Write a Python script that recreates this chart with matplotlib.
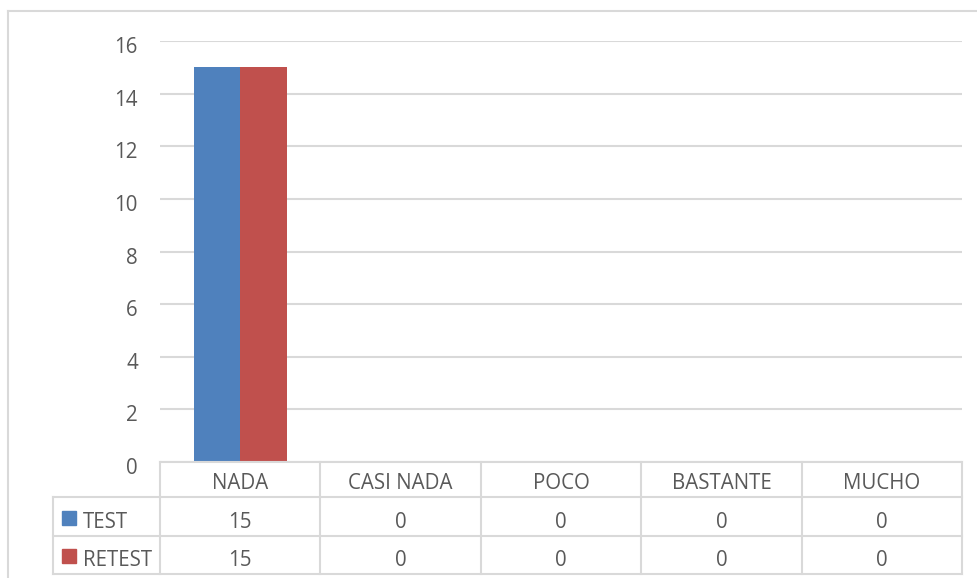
import matplotlib.pyplot as plt
from matplotlib.lines import Line2D
from matplotlib.patches import Rectangle
from matplotlib.transforms import ScaledTranslation
import numpy as np

plt.rcParams["font.family"] = ["Open Sans", "DejaVu Sans"]

# Data
categories = ["NADA", "CASI NADA", "POCO", "BASTANTE", "MUCHO"]
series_names = ["TEST", "RETEST"]
test_values = [15, 0, 0, 0, 0]
retest_values = [15, 0, 0, 0, 0]
yticks = [0, 2, 4, 6, 8, 10, 12, 14, 16]

COLORS = ["#4F81BD", "#C0504D"]
TXT = "#595959"
GRID = "#D9D9D9"
FS = 14.8

W, H = 977, 578
fig = plt.figure(figsize=(W / 100, H / 100), dpi=100)


def fx(px):
    return px / W


def fy(py):
    return 1 - py / H


# main plot area (pixel edges)
L, R, TOP, BOT = 160, 962, 41, 462
ax = fig.add_axes([fx(L), fy(BOT), fx(R - L), fy(TOP) - fy(BOT)])

x = np.arange(len(categories))
bw = 0.29
ax.bar(x - bw / 2, test_values, bw, color=COLORS[0], zorder=3)
ax.bar(x + bw / 2, retest_values, bw, color=COLORS[1], zorder=3)

ax.set_xlim(-0.5, len(categories) - 0.5)
ax.set_ylim(0, 16)
ax.set_yticks(yticks)
ax.set_xticks([])
ax.tick_params(axis="y", length=0, pad=16, labelsize=FS, labelcolor=TXT)
ax.yaxis.grid(True, color=GRID, lw=1.5, zorder=0)
for s in ax.spines.values():
    s.set_visible(False)
shift = ScaledTranslation(0, -4 / 100, fig.dpi_scale_trans)
for lab in ax.get_yticklabels():
    lab.set_transform(lab.get_transform() + shift)

# data table under the plot
row_edges = [462, 497, 536, 574]
TL = 53
label_w = (L - TL) / ((R - L) / len(categories))
tax = fig.add_axes([fx(TL), fy(row_edges[-1]), fx(R - TL), fy(row_edges[0]) - fy(row_edges[-1])])
tax.set_xlim(-0.5 - label_w, len(categories) - 0.5)
tax.set_ylim(row_edges[-1], row_edges[0])
tax.axis("off")

x0 = -0.5 - label_w
x1 = len(categories) - 0.5
lkw = dict(color=GRID, lw=1.5, clip_on=False)
tax.plot([-0.5, x1], [row_edges[0]] * 2, **lkw)
for yy in row_edges[1:]:
    tax.plot([x0, x1], [yy, yy], **lkw)
tax.plot([x0, x0], [row_edges[1], row_edges[-1]], **lkw)
for k in range(len(categories) + 1):
    tax.plot([k - 0.5] * 2, [row_edges[0], row_edges[-1]], **lkw)

for i, c in enumerate(categories):
    tax.text(i, (row_edges[0] + row_edges[1]) / 2 + 4, c, ha="center", va="center",
             fontsize=FS, color=TXT)

px_unit = 1 / ((R - L) / len(categories))
for r, (name, vals) in enumerate(zip(series_names, [test_values, retest_values])):
    yc = (row_edges[r + 1] + row_edges[r + 2]) / 2 + 6
    tax.add_patch(Rectangle((x0 + 9 * px_unit, yc - 7 - 5), 14 * px_unit, 14,
                            color=COLORS[r], clip_on=False))
    tax.text(x0 + 30 * px_unit, yc, name, ha="left", va="center", fontsize=FS, color=TXT)
    for i, v in enumerate(vals):
        tax.text(i, yc, str(v), ha="center", va="center", fontsize=FS, color=TXT)

# outer chart border (cut off at right and bottom)
fig.add_artist(Line2D([fx(8), fx(8)], [fy(11), 0], color=GRID, lw=1.5))
fig.add_artist(Line2D([fx(8), 1], [fy(11), fy(11)], color=GRID, lw=1.5))

fig.savefig("out.png", dpi=100, facecolor="white")
